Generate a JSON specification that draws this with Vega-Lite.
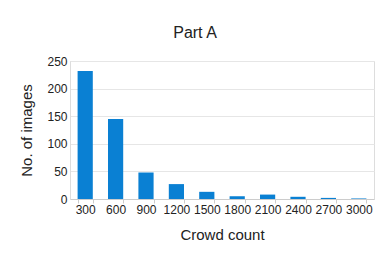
{
  "$schema": "https://vega.github.io/schema/vega-lite/v6.json",
  "autosize": {"type": "none"},
  "width": 304,
  "height": 138,
  "padding": {"left": 70, "top": 61, "right": 16, "bottom": 77},
  "background": "white",
  "config": {
    "font": "Liberation Sans",
    "view": {"stroke": "#dddddd", "strokeWidth": 1},
    "axis": {"labelColor": "#222222", "titleColor": "#222222", "labelFont": "Liberation Sans", "titleFont": "Liberation Sans", "titleFontWeight": "normal"},
    "title": {"color": "#222222", "fontWeight": "normal", "font": "Liberation Sans"}
  },
  "title": {"text": "Part A", "fontSize": 16, "anchor": "middle", "dx": -27, "baseline": "alphabetic", "offset": 21, "dy": 20},
  "data": {"values": [
    {"count": "300", "images": 232},
    {"count": "600", "images": 145},
    {"count": "900", "images": 48},
    {"count": "1200", "images": 27},
    {"count": "1500", "images": 13},
    {"count": "1800", "images": 5},
    {"count": "2100", "images": 8},
    {"count": "2400", "images": 4},
    {"count": "2700", "images": 2},
    {"count": "3000", "images": 1}
  ]},
  "layer": [
    {
      "mark": {"type": "bar", "color": "#0a80d3"},
      "encoding": {
        "x": {"field": "count", "type": "ordinal", "sort": null,
          "scale": {"paddingInner": 0.5, "paddingOuter": 0.25},
          "axis": {"title": "Crowd count", "titleFontSize": 15, "titlePadding": 12, "labelFontSize": 12, "labelAngle": 0, "labelPadding": 1, "ticks": true, "tickBand": "extent", "tickSize": 4, "tickColor": "#cccccc", "domainColor": "#cccccc", "labelOverlap": false}},
        "y": {"field": "images", "type": "quantitative",
          "scale": {"domain": [0, 250]},
          "axis": {"title": "No. of images", "titleFontSize": 15, "titlePadding": 12, "labelFontSize": 12, "values": [0, 50, 100, 150, 200, 250], "ticks": false, "labelPadding": 3, "gridColor": "#e6e6e6", "domainColor": "#dddddd"}}
      }
    }
  ]
}
